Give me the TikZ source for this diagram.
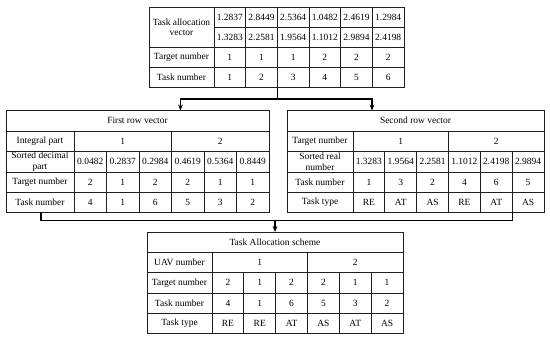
\documentclass[tikz,border=0pt]{standalone}
\usepackage{fontspec}
\setmainfont{Liberation Serif}
\usepackage{tikz}
\usetikzlibrary{arrows.meta}

\begin{document}
\begin{tikzpicture}[x=0.75pt,y=0.75pt,yscale=-1,xscale=1,
    cell/.style={inner sep=0.75pt, align=center, font=\fontsize{7.1}{8}\selectfont},
    grid/.style={color={rgb, 255:red, 30; green, 30; blue, 30 }, line width=0.75},
    flow/.style={line width=0.9, -{Stealth[length=4.5pt,width=3.6pt]}}]
    \useasboundingbox (0,0) rectangle (550,339);

    %Shape: Table [id:top] task allocation vector
    \draw  [grid] (149,7) -- (404,7) -- (404,87.5) -- (149,87.5) -- cycle ;
    \draw  [grid] (214,27.5) -- (404,27.5)(149,47.5) -- (404,47.5)(149,67.5) -- (404,67.5) ;
    \draw  [grid] (214,7) -- (214,87.5)(245.67,7) -- (245.67,87.5)(277.33,7) -- (277.33,87.5)(309,7) -- (309,87.5)(340.67,7) -- (340.67,87.5)(372.33,7) -- (372.33,87.5) ;
    %Shape: Table [id:first] first row vector
    \draw  [grid] (6,110.5) -- (269,110.5) -- (269,212) -- (6,212) -- cycle ;
    \draw  [grid] (6,131) -- (269,131)(6,151) -- (269,151)(6,172) -- (269,172)(6,192) -- (269,192) ;
    \draw  [grid] (74,131) -- (74,212)(171.5,131) -- (171.5,212)(106.5,151) -- (106.5,212)(139,151) -- (139,212)(204,151) -- (204,212)(236.5,151) -- (236.5,212) ;
    %Shape: Table [id:second] second row vector
    \draw  [grid] (287,110.5) -- (544,110.5) -- (544,212) -- (287,212) -- cycle ;
    \draw  [grid] (287,131) -- (544,131)(287,151) -- (544,151)(287,172) -- (544,172)(287,192) -- (544,192) ;
    \draw  [grid] (353,131) -- (353,212)(448.5,131) -- (448.5,212)(384.83,151) -- (384.83,212)(416.67,151) -- (416.67,212)(480.33,151) -- (480.33,212)(512.17,151) -- (512.17,212) ;
    %Shape: Table [id:scheme] task allocation scheme
    \draw  [grid] (147,232) -- (403,232) -- (403,333) -- (147,333) -- cycle ;
    \draw  [grid] (147,252) -- (403,252)(147,272.5) -- (403,272.5)(147,293) -- (403,293)(147,313) -- (403,313) ;
    \draw  [grid] (212,252) -- (212,333)(307.5,252) -- (307.5,333)(243.83,272.5) -- (243.83,333)(275.67,272.5) -- (275.67,333)(339.33,272.5) -- (339.33,333)(371.17,272.5) -- (371.17,333) ;

    % Connectors
    \coordinate (topOut) at (277.33,87.5);
    \coordinate (split) at (277.33,99);
    \coordinate (firstIn) at (180.5,110.5);
    \coordinate (secondIn) at (372,110.5);
    \coordinate (firstOut) at (41,212);
    \coordinate (secondOut) at (512.17,212);
    \coordinate (merge) at (275,220.5);
    \coordinate (schemeIn) at (275,232);
    \draw [line width=0.9] (topOut) -- (split);
    \draw [flow] (split) -| (firstIn);
    \draw [flow] (split) -| (secondIn);
    \draw [line width=0.9] (firstOut) |- (merge);
    \draw [line width=0.9] (secondOut) |- (merge);
    \draw [flow] (merge) -- (schemeIn);

    % Text Node top table
    \node [cell] (vecLbl) at (181.5,27.25) {Task allocation\\vector};
    \node [cell] (vecA1) at (229.8,17.25) {1.2837};
    \node [cell] (vecA2) at (261.5,17.25) {2.8449};
    \node [cell] (vecA3) at (293.2,17.25) {2.5364};
    \node [cell] (vecA4) at (324.8,17.25) {1.0482};
    \node [cell] (vecA5) at (356.5,17.25) {2.4619};
    \node [cell] (vecA6) at (388.2,17.25) {1.2984};
    \node [cell] (vecB1) at (229.8,37.5) {1.3283};
    \node [cell] (vecB2) at (261.5,37.5) {2.2581};
    \node [cell] (vecB3) at (293.2,37.5) {1.9564};
    \node [cell] (vecB4) at (324.8,37.5) {1.1012};
    \node [cell] (vecB5) at (356.5,37.5) {2.9894};
    \node [cell] (vecB6) at (388.2,37.5) {2.4198};
    \node [cell] (vecTgtLbl) at (181.5,57.5) {Target number};
    \node [cell] (vecT1) at (229.8,57.5) {1};
    \node [cell] (vecT2) at (261.5,57.5) {1};
    \node [cell] (vecT3) at (293.2,57.5) {1};
    \node [cell] (vecT4) at (324.8,57.5) {2};
    \node [cell] (vecT5) at (356.5,57.5) {2};
    \node [cell] (vecT6) at (388.2,57.5) {2};
    \node [cell] (vecTskLbl) at (181.5,77.5) {Task number};
    \node [cell] (vecK1) at (229.8,77.5) {1};
    \node [cell] (vecK2) at (261.5,77.5) {2};
    \node [cell] (vecK3) at (293.2,77.5) {3};
    \node [cell] (vecK4) at (324.8,77.5) {4};
    \node [cell] (vecK5) at (356.5,77.5) {5};
    \node [cell] (vecK6) at (388.2,77.5) {6};

    % Text Node first row vector
    \node [cell] (fstTitle) at (137.5,120.75) {First row vector};
    \node [cell] (fstIntLbl) at (40,141) {Integral part};
    \node [cell] (fstInt1) at (122.75,141) {1};
    \node [cell] (fstInt2) at (220.25,141) {2};
    \node [cell] (fstDecLbl) at (40,161.5) {Sorted decimal\\part};
    \node [cell] (fstD1) at (90.25,161.5) {0.0482};
    \node [cell] (fstD2) at (122.75,161.5) {0.2837};
    \node [cell] (fstD3) at (155.25,161.5) {0.2984};
    \node [cell] (fstD4) at (187.75,161.5) {0.4619};
    \node [cell] (fstD5) at (220.25,161.5) {0.5364};
    \node [cell] (fstD6) at (252.75,161.5) {0.8449};
    \node [cell] (fstTgtLbl) at (40,182) {Target number};
    \node [cell] (fstT1) at (90.25,182) {2};
    \node [cell] (fstT2) at (122.75,182) {1};
    \node [cell] (fstT3) at (155.25,182) {2};
    \node [cell] (fstT4) at (187.75,182) {2};
    \node [cell] (fstT5) at (220.25,182) {1};
    \node [cell] (fstT6) at (252.75,182) {1};
    \node [cell] (fstTskLbl) at (40,202) {Task number};
    \node [cell] (fstK1) at (90.25,202) {4};
    \node [cell] (fstK2) at (122.75,202) {1};
    \node [cell] (fstK3) at (155.25,202) {6};
    \node [cell] (fstK4) at (187.75,202) {5};
    \node [cell] (fstK5) at (220.25,202) {3};
    \node [cell] (fstK6) at (252.75,202) {2};

    % Text Node second row vector
    \node [cell] (sndTitle) at (415.5,120.75) {Second row vector};
    \node [cell] (sndTgtLbl) at (320,141) {Target number};
    \node [cell] (sndTgt1) at (400.75,141) {1};
    \node [cell] (sndTgt2) at (496.25,141) {2};
    \node [cell] (sndRealLbl) at (320,161.5) {Sorted real\\number};
    \node [cell] (sndR1) at (368.9,161.5) {1.3283};
    \node [cell] (sndR2) at (400.75,161.5) {1.9564};
    \node [cell] (sndR3) at (432.6,161.5) {2.2581};
    \node [cell] (sndR4) at (464.4,161.5) {1.1012};
    \node [cell] (sndR5) at (496.25,161.5) {2.4198};
    \node [cell] (sndR6) at (528.1,161.5) {2.9894};
    \node [cell] (sndTskLbl) at (320,182) {Task number};
    \node [cell] (sndK1) at (368.9,182) {1};
    \node [cell] (sndK2) at (400.75,182) {3};
    \node [cell] (sndK3) at (432.6,182) {2};
    \node [cell] (sndK4) at (464.4,182) {4};
    \node [cell] (sndK5) at (496.25,182) {6};
    \node [cell] (sndK6) at (528.1,182) {5};
    \node [cell] (sndTypLbl) at (320,202) {Task type};
    \node [cell] (sndY1) at (368.9,202) {RE};
    \node [cell] (sndY2) at (400.75,202) {AT};
    \node [cell] (sndY3) at (432.6,202) {AS};
    \node [cell] (sndY4) at (464.4,202) {RE};
    \node [cell] (sndY5) at (496.25,202) {AT};
    \node [cell] (sndY6) at (528.1,202) {AS};

    % Text Node task allocation scheme
    \node [cell] (schTitle) at (275,242) {Task Allocation scheme};
    \node [cell] (schUavLbl) at (179.5,262.25) {UAV number};
    \node [cell] (schU1) at (259.75,262.25) {1};
    \node [cell] (schU2) at (355.25,262.25) {2};
    \node [cell] (schTgtLbl) at (179.5,282.75) {Target number};
    \node [cell] (schT1) at (227.9,282.75) {2};
    \node [cell] (schT2) at (259.75,282.75) {1};
    \node [cell] (schT3) at (291.6,282.75) {2};
    \node [cell] (schT4) at (323.4,282.75) {2};
    \node [cell] (schT5) at (355.25,282.75) {1};
    \node [cell] (schT6) at (387.1,282.75) {1};
    \node [cell] (schTskLbl) at (179.5,303) {Task number};
    \node [cell] (schK1) at (227.9,303) {4};
    \node [cell] (schK2) at (259.75,303) {1};
    \node [cell] (schK3) at (291.6,303) {6};
    \node [cell] (schK4) at (323.4,303) {5};
    \node [cell] (schK5) at (355.25,303) {3};
    \node [cell] (schK6) at (387.1,303) {2};
    \node [cell] (schTypLbl) at (179.5,323) {Task type};
    \node [cell] (schY1) at (227.9,323) {RE};
    \node [cell] (schY2) at (259.75,323) {RE};
    \node [cell] (schY3) at (291.6,323) {AT};
    \node [cell] (schY4) at (323.4,323) {AS};
    \node [cell] (schY5) at (355.25,323) {AT};
    \node [cell] (schY6) at (387.1,323) {AS};

\end{tikzpicture}
\end{document}
